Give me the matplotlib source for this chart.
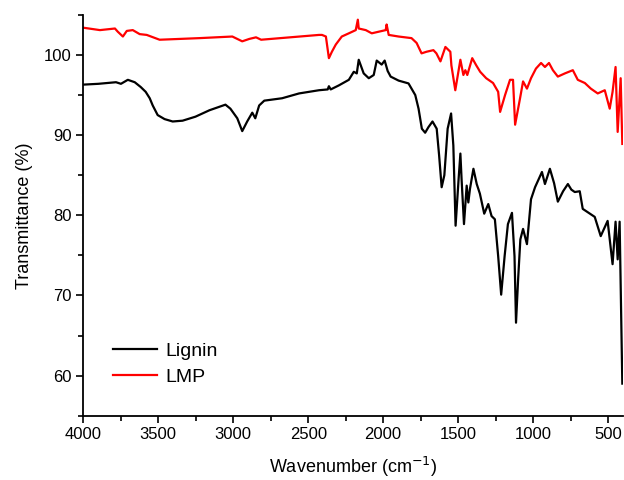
import matplotlib
matplotlib.use("Agg")
import matplotlib.pyplot as plt
from matplotlib.ticker import MultipleLocator

plt.rcParams["font.family"] = ["Liberation Sans", "DejaVu Sans"]

# FTIR spectra (wavenumber in cm-1, transmittance in %)
lignin_wn = [4000, 3900, 3782, 3749, 3703, 3657, 3617, 3584, 3557, 3537,
             3504, 3458, 3404, 3338, 3252, 3159, 3052, 3019, 2973, 2940,
             2907, 2873, 2853, 2827, 2793, 2674, 2561, 2428, 2370, 2362,
             2350, 2296, 2229, 2196, 2176, 2163, 2130, 2096, 2063, 2043,
             2010, 1990, 1970, 1950, 1897, 1831, 1786, 1764, 1742, 1720,
             1698, 1671, 1643, 1627, 1610, 1592, 1570, 1547, 1532, 1517,
             1497, 1485, 1477, 1461, 1443, 1432, 1421, 1398, 1376, 1355,
             1326, 1299, 1277, 1255, 1233, 1213, 1190, 1168, 1141, 1124,
             1114, 1100, 1085, 1067, 1041, 1014, 987, 941, 921, 888,
             860, 835, 800, 768, 745, 722, 689, 669, 589, 549,
             503, 470, 450, 436, 423, 405]
lignin_t = [96.3, 96.4, 96.6, 96.4, 96.9, 96.6, 96.0, 95.4, 94.6, 93.7,
            92.5, 92.0, 91.7, 91.8, 92.3, 93.1, 93.8, 93.3, 92.1, 90.5,
            91.7, 92.8, 92.1, 93.7, 94.3, 94.6, 95.2, 95.6, 95.7, 96.1,
            95.7, 96.2, 96.9, 97.9, 97.7, 99.4, 97.7, 97.1, 97.5, 99.3,
            98.8, 99.3, 98.0, 97.3, 96.8, 96.45, 95.0, 93.3, 90.8, 90.3,
            91.0, 91.7, 90.8, 87.5, 83.5, 85.0, 90.8, 92.7, 88.7, 78.7,
            84.5, 87.7, 84.5, 78.9, 83.7, 81.6, 83.3, 85.8, 83.9, 82.7,
            80.2, 81.4, 79.9, 79.5, 74.9, 70.1, 74.9, 78.9, 80.3, 74.9,
            66.6, 72.0, 77.0, 78.3, 76.4, 82.0, 83.5, 85.4, 83.9, 85.8,
            84.0, 81.7, 83.0, 83.9, 83.2, 82.9, 83.0, 80.8, 79.8, 77.4,
            79.3, 73.9, 79.2, 74.5, 79.2, 59.0]

lmp_wn = [4000, 3889, 3789, 3770, 3736, 3710, 3670, 3624, 3577, 3491,
          3225, 3006, 2940, 2893, 2848, 2814, 2428, 2408, 2382, 2362,
          2342, 2316, 2276, 2229, 2183, 2169, 2163, 2116, 2076, 2030,
          1983, 1977, 1963, 1897, 1811, 1777, 1744, 1711, 1665, 1645,
          1618, 1585, 1552, 1545, 1519, 1485, 1465, 1452, 1439, 1406,
          1379, 1353, 1313, 1267, 1233, 1220, 1187, 1154, 1134, 1120,
          1087, 1067, 1041, 1014, 981, 947, 921, 894, 868, 835,
          788, 735, 702, 655, 615, 569, 522, 489, 470, 450,
          436, 416, 405]
lmp_t = [103.4, 103.1, 103.3, 102.9, 102.3, 103.0, 103.1, 102.6, 102.5, 101.9,
         102.1, 102.3, 101.7, 102.0, 102.2, 101.9, 102.5, 102.5, 102.3, 99.6,
         100.4, 101.3, 102.3, 102.7, 103.1, 104.4, 103.3, 103.1, 102.7, 102.9,
         103.1, 103.8, 102.5, 102.3, 102.1, 101.5, 100.2, 100.4, 100.6, 100.2,
         99.2, 101.0, 100.4, 98.7, 95.6, 99.4, 97.5, 98.1, 97.5, 99.6,
         98.7, 97.9, 97.1, 96.5, 95.4, 92.9, 95.0, 96.9, 96.9, 91.3,
         94.6, 96.7, 95.8, 97.1, 98.3, 99.0, 98.5, 99.0, 98.1, 97.3,
         97.7, 98.1, 96.9, 96.5, 95.8, 95.2, 95.6, 93.3, 95.4, 98.5,
         90.4, 97.1, 88.9]

fig = plt.figure(figsize=(6.24, 4.8), dpi=100)
ax = fig.add_axes([0.1335, 0.134, 0.865, 0.835])

ax.plot(lignin_wn, lignin_t, color="black", linewidth=1.6, label="Lignin")
ax.plot(lmp_wn, lmp_t, color="red", linewidth=1.6, label="LMP")

ax.set_xlim(4000, 400)
ax.set_ylim(55, 105)
ax.xaxis.set_major_locator(MultipleLocator(500))
ax.xaxis.set_minor_locator(MultipleLocator(250))
ax.yaxis.set_major_locator(MultipleLocator(10))
ax.yaxis.set_minor_locator(MultipleLocator(5))
ax.tick_params(which="major", direction="out", length=5, width=1.2, labelsize=12)
ax.tick_params(which="minor", direction="out", length=3.5, width=1.2)

for side in ("top", "right"):
    ax.spines[side].set_visible(False)
for side in ("left", "bottom"):
    ax.spines[side].set_linewidth(1.3)

ax.set_xlabel("Wavenumber (cm$^{-1}$)", fontsize=13, labelpad=9)
ax.set_ylabel("Transmittance (%)", fontsize=13, labelpad=8)

ax.legend(loc="lower left", bbox_to_anchor=(0.022, 0.03), frameon=False,
          fontsize=14, handlelength=2.3, handletextpad=0.4, labelspacing=0.45)

fig.savefig("out.png", dpi=100)
